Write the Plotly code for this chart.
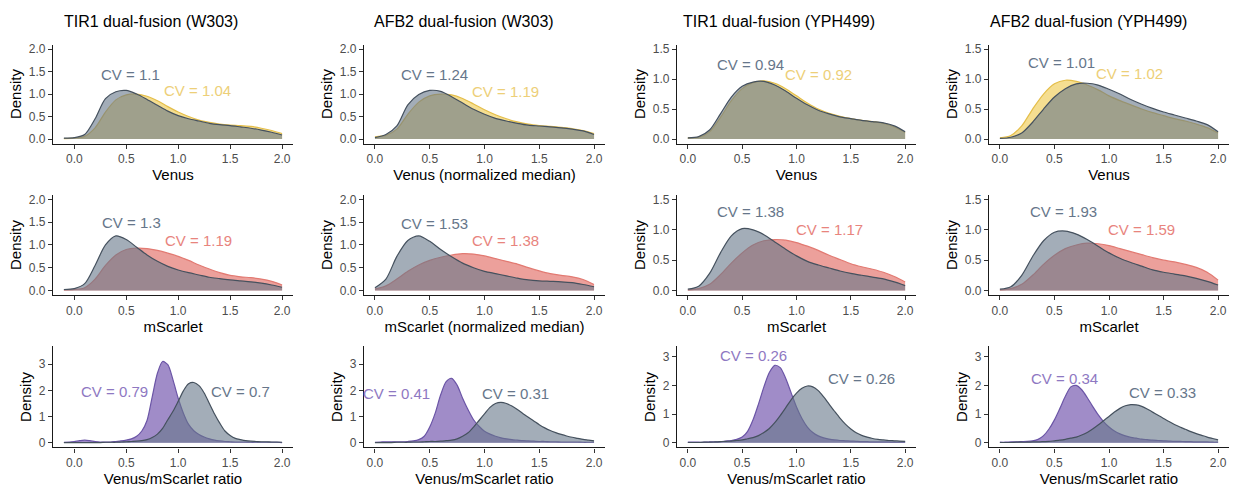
import plotly.graph_objects as go
from plotly.subplots import make_subplots

FONT = "Liberation Sans, Arial, Helvetica, sans-serif"

# ---------------------------------------------------------------- labels
strain_titles = ["TIR1 dual-fusion (W303)", "AFB2 dual-fusion (W303)",
                 "TIR1 dual-fusion (YPH499)", "AFB2 dual-fusion (YPH499)"]
venus_axis_titles = ["Venus", "Venus (normalized median)", "Venus", "Venus"]
mscarlet_axis_titles = ["mScarlet", "mScarlet (normalized median)", "mScarlet", "mScarlet"]
ratio_axis_title = "Venus/mScarlet ratio"

# ---------------------------------------------------------------- x grids
x_coarse_neg = [-0.1, 0.0, 0.1, 0.2, 0.3, 0.4, 0.5, 0.6, 0.7, 0.8, 0.9, 1.0,
                1.1, 1.2, 1.3, 1.4, 1.5, 1.6, 1.7, 1.8, 1.9, 2.0]
x_coarse = [0.0, 0.1, 0.2, 0.3, 0.4, 0.5, 0.6, 0.7, 0.8, 0.9, 1.0,
            1.1, 1.2, 1.3, 1.4, 1.5, 1.6, 1.7, 1.8, 1.9, 2.0]
x_fine_neg = [-0.1, -0.05, 0.0, 0.05, 0.1, 0.15, 0.2, 0.25, 0.3, 0.35, 0.4, 0.45,
              0.5, 0.55, 0.6, 0.65, 0.7, 0.75, 0.8, 0.85, 0.9, 0.95, 1.0, 1.05,
              1.1, 1.15, 1.2, 1.25, 1.3, 1.35, 1.4, 1.45, 1.5, 1.55, 1.6, 1.65,
              1.7, 1.75, 1.8, 1.85, 1.9, 1.95, 2.0]
x_fine = [0.0, 0.05, 0.1, 0.15, 0.2, 0.25, 0.3, 0.35, 0.4, 0.45,
          0.5, 0.55, 0.6, 0.65, 0.7, 0.75, 0.8, 0.85, 0.9, 0.95, 1.0, 1.05,
          1.1, 1.15, 1.2, 1.25, 1.3, 1.35, 1.4, 1.45, 1.5, 1.55, 1.6, 1.65,
          1.7, 1.75, 1.8, 1.85, 1.9, 1.95, 2.0]

# ---------------------------------------------------------------- densities: Venus
venus_gray_tir1_w303 = [0.02, 0.03, 0.1, 0.45, 0.9, 1.05, 1.08, 1.0, 0.88, 0.75, 0.62, 0.52,
                        0.45, 0.4, 0.35, 0.32, 0.3, 0.27, 0.24, 0.2, 0.15, 0.09]
venus_yellow_tir1_w303 = [0.01, 0.02, 0.06, 0.25, 0.6, 0.87, 0.98, 1.0, 0.95, 0.85, 0.72, 0.6,
                          0.5, 0.42, 0.37, 0.33, 0.31, 0.3, 0.28, 0.24, 0.19, 0.12]
venus_gray_afb2_w303 = [0.03, 0.1, 0.29, 0.76, 0.99, 1.08, 1.06, 0.94, 0.8, 0.66, 0.55,
                        0.46, 0.4, 0.35, 0.31, 0.29, 0.27, 0.25, 0.22, 0.18, 0.1]
venus_yellow_afb2_w303 = [0.05, 0.08, 0.22, 0.55, 0.82, 0.96, 1.0, 0.98, 0.9, 0.78, 0.65,
                          0.54, 0.45, 0.38, 0.33, 0.3, 0.28, 0.26, 0.23, 0.19, 0.12]
venus_gray_tir1_yph = [0.02, 0.04, 0.15, 0.42, 0.7, 0.88, 0.95, 0.96, 0.9, 0.8, 0.68,
                       0.57, 0.48, 0.42, 0.37, 0.34, 0.31, 0.29, 0.27, 0.22, 0.12]
venus_yellow_tir1_yph = [0.02, 0.03, 0.12, 0.36, 0.64, 0.84, 0.94, 0.97, 0.93, 0.84, 0.72,
                         0.6, 0.5, 0.43, 0.38, 0.34, 0.31, 0.29, 0.26, 0.2, 0.11]
venus_gray_afb2_yph = [0.01, 0.03, 0.1, 0.28, 0.5, 0.7, 0.84, 0.92, 0.93, 0.9, 0.83,
                       0.75, 0.66, 0.58, 0.51, 0.45, 0.4, 0.35, 0.3, 0.24, 0.12]
venus_yellow_afb2_yph = [0.02, 0.06, 0.22, 0.5, 0.75, 0.92, 0.98, 0.96, 0.9, 0.82, 0.72,
                         0.64, 0.57, 0.5, 0.44, 0.39, 0.34, 0.3, 0.25, 0.19, 0.1]

# ---------------------------------------------------------------- densities: mScarlet
msc_gray_tir1_w303 = [0.02, 0.04, 0.15, 0.55, 1.0, 1.2, 1.12, 0.95, 0.78, 0.64, 0.53, 0.45,
                      0.39, 0.34, 0.29, 0.26, 0.23, 0.21, 0.19, 0.16, 0.12, 0.07]
msc_red_tir1_w303 = [0.01, 0.02, 0.06, 0.25, 0.55, 0.78, 0.9, 0.93, 0.92, 0.88, 0.82, 0.75,
                     0.66, 0.56, 0.47, 0.39, 0.33, 0.3, 0.28, 0.25, 0.2, 0.12]
msc_gray_afb2_w303 = [0.06, 0.25, 0.75, 1.1, 1.2, 1.08, 0.9, 0.74, 0.6, 0.5, 0.42,
                      0.37, 0.32, 0.27, 0.23, 0.21, 0.2, 0.19, 0.17, 0.13, 0.08]
msc_red_afb2_w303 = [0.03, 0.1, 0.25, 0.42, 0.56, 0.66, 0.73, 0.78, 0.81, 0.8, 0.76,
                     0.7, 0.64, 0.58, 0.5, 0.43, 0.37, 0.33, 0.3, 0.24, 0.13]
msc_gray_tir1_yph = [0.02, 0.07, 0.28, 0.62, 0.9, 1.02, 1.0, 0.92, 0.8, 0.68, 0.57,
                     0.48, 0.42, 0.37, 0.32, 0.28, 0.25, 0.22, 0.19, 0.14, 0.08]
msc_red_tir1_yph = [0.01, 0.03, 0.1, 0.26, 0.45, 0.62, 0.75, 0.82, 0.84, 0.83, 0.79,
                    0.73, 0.66, 0.58, 0.51, 0.44, 0.39, 0.35, 0.3, 0.23, 0.14]
msc_gray_afb2_yph = [0.02, 0.06, 0.25, 0.56, 0.82, 0.96, 0.98, 0.93, 0.84, 0.73, 0.62,
                     0.53, 0.46, 0.4, 0.34, 0.3, 0.27, 0.24, 0.2, 0.15, 0.09]
msc_red_afb2_yph = [0.01, 0.03, 0.1, 0.25, 0.43, 0.58, 0.69, 0.75, 0.78, 0.77, 0.74,
                    0.69, 0.64, 0.59, 0.54, 0.5, 0.47, 0.43, 0.38, 0.3, 0.17]

# ---------------------------------------------------------------- densities: ratio
ratio_purple_tir1_w303 = [0.02, 0.03, 0.05, 0.08, 0.1, 0.08, 0.05, 0.03, 0.03, 0.03, 0.05, 0.07,
                          0.1, 0.15, 0.25, 0.45, 0.85, 1.75, 2.65, 3.1, 2.98, 2.4, 1.7, 1.13,
                          0.7, 0.46, 0.32, 0.22, 0.15, 0.1, 0.07, 0.05, 0.04, 0.03, 0.03, 0.03,
                          0.02, 0.02, 0.02, 0.02, 0.02, 0.02, 0.01]
ratio_gray_tir1_w303 = [0.01, 0.01, 0.01, 0.01, 0.01, 0.01, 0.01, 0.01, 0.02, 0.02, 0.02, 0.03,
                        0.04, 0.05, 0.06, 0.08, 0.12, 0.2, 0.33, 0.55, 0.88, 1.2, 1.58, 1.98,
                        2.25, 2.3, 2.18, 1.9, 1.5, 1.1, 0.75, 0.45, 0.28, 0.17, 0.12, 0.08,
                        0.06, 0.05, 0.04, 0.04, 0.03, 0.03, 0.02]
ratio_purple_afb2_w303 = [0.02, 0.03, 0.04, 0.04, 0.04, 0.04, 0.05, 0.07, 0.12, 0.25,
                          0.6, 1.13, 1.83, 2.33, 2.46, 2.2, 1.7, 1.26, 0.88, 0.63, 0.44,
                          0.33, 0.25, 0.19, 0.15, 0.12, 0.1, 0.08, 0.07, 0.06, 0.05,
                          0.05, 0.04, 0.04, 0.03, 0.03, 0.03, 0.03, 0.02, 0.02, 0.02]
ratio_gray_afb2_w303 = [0.01, 0.01, 0.01, 0.01, 0.02, 0.02, 0.02, 0.03, 0.03, 0.04,
                        0.05, 0.05, 0.06, 0.08, 0.1, 0.15, 0.25, 0.38, 0.6, 0.85, 1.1,
                        1.35, 1.5, 1.54, 1.5, 1.4, 1.27, 1.12, 0.97, 0.83, 0.69,
                        0.57, 0.47, 0.39, 0.32, 0.26, 0.21, 0.17, 0.13, 0.1, 0.07]
ratio_purple_tir1_yph = [0.02, 0.02, 0.02, 0.02, 0.03, 0.03, 0.04, 0.06, 0.08, 0.12,
                         0.2, 0.4, 0.8, 1.35, 1.95, 2.45, 2.7, 2.62, 2.25, 1.75, 1.25,
                         0.85, 0.55, 0.36, 0.24, 0.17, 0.13, 0.1, 0.08, 0.07, 0.06,
                         0.05, 0.04, 0.04, 0.03, 0.03, 0.03, 0.03, 0.02, 0.02, 0.02]
ratio_gray_tir1_yph = [0.01, 0.01, 0.01, 0.02, 0.02, 0.03, 0.04, 0.05, 0.06, 0.08,
                       0.1, 0.14, 0.18, 0.25, 0.36, 0.5, 0.7, 0.95, 1.22, 1.5, 1.73,
                       1.9, 1.98, 1.95, 1.82, 1.6, 1.35, 1.1, 0.86, 0.65, 0.48,
                       0.35, 0.26, 0.2, 0.15, 0.12, 0.1, 0.08, 0.07, 0.06, 0.05]
ratio_purple_afb2_yph = [0.02, 0.02, 0.03, 0.03, 0.04, 0.05, 0.07, 0.12, 0.25, 0.48,
                         0.8, 1.2, 1.62, 1.95, 2.0, 1.85, 1.58, 1.27, 0.98, 0.74, 0.55,
                         0.41, 0.31, 0.24, 0.19, 0.16, 0.13, 0.11, 0.09, 0.08, 0.07,
                         0.06, 0.05, 0.05, 0.04, 0.04, 0.03, 0.03, 0.03, 0.02, 0.02]
ratio_gray_afb2_yph = [0.01, 0.01, 0.01, 0.02, 0.02, 0.02, 0.03, 0.03, 0.04, 0.05,
                       0.07, 0.09, 0.12, 0.16, 0.2, 0.27, 0.36, 0.48, 0.62, 0.77, 0.92,
                       1.07, 1.2, 1.29, 1.33, 1.32, 1.27, 1.18, 1.07, 0.96, 0.85,
                       0.74, 0.64, 0.55, 0.47, 0.39, 0.32, 0.26, 0.2, 0.15, 0.1]

# ---------------------------------------------------------------- coefficients of variation
cv_venus_gray = [1.1, 1.24, 0.94, 1.01]
cv_venus_yellow = [1.04, 1.19, 0.92, 1.02]
cv_msc_gray = [1.3, 1.53, 1.38, 1.93]
cv_msc_red = [1.19, 1.38, 1.17, 1.59]
cv_ratio_purple = [0.79, 0.41, 0.26, 0.34]
cv_ratio_gray = [0.7, 0.31, 0.26, 0.33]

# ---------------------------------------------------------------- styling
ALPHA = 0.6
STYLE = {
    "gray":   dict(fill=(102, 118, 137), line="#45515E", text="#66768A"),
    "yellow": dict(fill=(238, 200, 72), line="#E4BE4A", text="#EDCF78"),
    "red":    dict(fill=(223, 97, 88), line="#E27A72", text="#E8847D"),
    "purple": dict(fill=(97, 63, 163), line="#6B55A6", text="#8E78C2"),
}

# panel pixel boxes (left, right) and (top, bottom) in a 1233 x 487 canvas
W, H = 1233, 487
col_px = [(53, 293), (364, 605), (677, 916), (989, 1229)]
row_px = [(43, 143), (195, 296), (348, 450)]
title_cx = [151, 464, 779, 1088]

x_ranges = [[-0.205, 2.105], [-0.1, 2.1], [-0.1, 2.1], [-0.1, 2.1]]
y_ranges = [
    [[-0.1, 2.1], [-0.1, 2.1], [-0.075, 1.575], [-0.075, 1.575]],
    [[-0.1, 2.1], [-0.1, 2.1], [-0.075, 1.575], [-0.075, 1.575]],
    [[-0.175, 3.675], [-0.175, 3.675], [-0.16, 3.36], [-0.16, 3.36]],
]
y_ticks = [
    [[0, 0.5, 1, 1.5, 2]] * 2 + [[0, 0.5, 1, 1.5]] * 2,
    [[0, 0.5, 1, 1.5, 2]] * 2 + [[0, 0.5, 1, 1.5]] * 2,
    [[0, 1, 2, 3]] * 4,
]

# label anchor positions in data units: (row, col) -> [(x, y), (x, y)]
label_pos = {
    0: [[(0.54, 1.43), (1.19, 1.07)], [(0.54, 1.44), (1.19, 1.06)],
        [(0.58, 1.25), (1.2, 1.08)], [(0.56, 1.27), (1.19, 1.09)]],
    1: [[(0.55, 1.49), (1.2, 1.1)], [(0.54, 1.48), (1.19, 1.1)],
        [(0.58, 1.3), (1.3, 1.0)], [(0.58, 1.3), (1.3, 1.0)]],
    2: [[(0.39, 1.95), (1.6, 1.95)], [(0.2, 1.89), (1.28, 1.89)],
        [(0.6, 3.06), (1.6, 2.25)], [(0.59, 2.25), (1.49, 1.75)]],
}

# ---------------------------------------------------------------- panel table
rows = [
    dict(x=[x_coarse_neg, x_coarse, x_coarse, x_coarse],
         under=[venus_yellow_tir1_w303, venus_yellow_afb2_w303, venus_yellow_tir1_yph, venus_yellow_afb2_yph],
         over=[venus_gray_tir1_w303, venus_gray_afb2_w303, venus_gray_tir1_yph, venus_gray_afb2_yph],
         under_color="yellow", over_color="gray",
         cv_first=cv_venus_gray, cv_second=cv_venus_yellow,
         first_color="gray", second_color="yellow",
         xtitles=venus_axis_titles),
    dict(x=[x_coarse_neg, x_coarse, x_coarse, x_coarse],
         under=[msc_red_tir1_w303, msc_red_afb2_w303, msc_red_tir1_yph, msc_red_afb2_yph],
         over=[msc_gray_tir1_w303, msc_gray_afb2_w303, msc_gray_tir1_yph, msc_gray_afb2_yph],
         under_color="red", over_color="gray",
         cv_first=cv_msc_gray, cv_second=cv_msc_red,
         first_color="gray", second_color="red",
         xtitles=mscarlet_axis_titles),
    dict(x=[x_fine_neg, x_fine, x_fine, x_fine],
         under=[ratio_purple_tir1_w303, ratio_purple_afb2_w303, ratio_purple_tir1_yph, ratio_purple_afb2_yph],
         over=[ratio_gray_tir1_w303, ratio_gray_afb2_w303, ratio_gray_tir1_yph, ratio_gray_afb2_yph],
         under_color="purple", over_color="gray",
         cv_first=cv_ratio_purple, cv_second=cv_ratio_gray,
         first_color="purple", second_color="gray",
         xtitles=[ratio_axis_title] * 4),
]

fig = make_subplots(rows=3, cols=4)


def rgba(rgb, a):
    return "rgba(%d,%d,%d,%.2f)" % (rgb[0], rgb[1], rgb[2], a)


annotations = []
for r, spec in enumerate(rows):
    for c in range(4):
        for key, color in (("under", spec["under_color"]), ("over", spec["over_color"])):
            st = STYLE[color]
            fig.add_trace(go.Scatter(
                x=spec["x"][c], y=spec[key][c], mode="lines",
                line=dict(color=st["line"], width=1.2, shape="spline", smoothing=0.8),
                fill="tozeroy", fillcolor=rgba(st["fill"], ALPHA),
                hoverinfo="skip", showlegend=False,
            ), row=r + 1, col=c + 1)

        idx = r * 4 + c + 1
        xa = "x" if idx == 1 else "x%d" % idx
        ya = "y" if idx == 1 else "y%d" % idx
        (p1, p2) = label_pos[r][c]
        for (px, py), val, color in ((p1, spec["cv_first"][c], spec["first_color"]),
                                     (p2, spec["cv_second"][c], spec["second_color"])):
            annotations.append(dict(
                x=px, y=py, xref=xa, yref=ya, text="CV = %s" % val, showarrow=False,
                xanchor="center", yanchor="middle",
                font=dict(family=FONT, size=15, color=STYLE[color]["text"]),
            ))

        left, right = col_px[c]
        top, bottom = row_px[r]
        axis_common = dict(showline=True, linecolor="#1a1a1a", linewidth=1.3,
                           ticks="outside", ticklen=4, tickwidth=1, tickcolor="#333333",
                           showgrid=False, zeroline=False,
                           tickfont=dict(family=FONT, size=12, color="#4D4D4D"))
        fig.update_xaxes(domain=[left / W, right / W], range=x_ranges[c],
                         tickvals=[0, 0.5, 1, 1.5, 2], tickformat=".1f",
                         title=dict(text=spec["xtitles"][c], standoff=0,
                                    font=dict(family=FONT, size=15, color="black")),
                         row=r + 1, col=c + 1, **axis_common)
        fig.update_yaxes(domain=[1 - bottom / H, 1 - top / H], range=y_ranges[r][c],
                         tickvals=y_ticks[r][c],
                         tickformat="d" if r == 2 else ".1f",
                         title=dict(text="Density", standoff=3,
                                    font=dict(family=FONT, size=15, color="black")),
                         row=r + 1, col=c + 1, **axis_common)

for c, title in enumerate(strain_titles):
    annotations.append(dict(
        x=title_cx[c] / W, y=1 - 20 / H, xref="paper", yref="paper",
        text=title, showarrow=False, xanchor="center", yanchor="middle",
        font=dict(family=FONT, size=16, color="black"),
    ))

fig.update_layout(
    width=W, height=H, margin=dict(l=0, r=0, t=0, b=0),
    plot_bgcolor="white", paper_bgcolor="white", showlegend=False,
    annotations=annotations,
)

fig.write_html("out.html")
